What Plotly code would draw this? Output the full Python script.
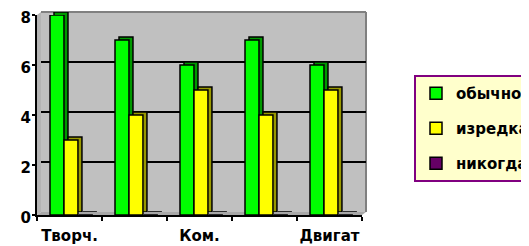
import plotly.graph_objects as go

categories = ["Творч.", "Позн.", "Ком.", "Игр.", "Двигат"]
shown_labels = ["Творч.", "", "Ком.", "", "Двигат"]
series_names = ["обычно", "изредка", "никогда"]
obychno = [8, 7, 6, 7, 6]
izredka = [3, 4, 5, 4, 5]
nikogda = [0, 0, 0, 0, 0]
y_ticks = [0, 2, 4, 6, 8]

front_colors = ["#00FF00", "#FFFF00", "#660066"]
depth_colors = ["#009900", "#999900", "#440044"]
values = [obychno, izredka, nikogda]
bar_offsets = [-0.30, -0.085, 0.145]
BAR_W = 0.215

# page body adds an 8px offset; target screen coordinates are compensated
OFF = 8
W, H = 529, 246
pw, ph = 329, 203
ml, mt = 37 - OFF, 12 - OFF
mr, mb = W - ml - pw, H - mt - ph
dx, dy = 4 / pw, 3 / ph

FONT = "DejaVu Sans"
fig = go.Figure()

for name, vals, col, off in zip(series_names, values, depth_colors, bar_offsets):
    fig.add_trace(go.Bar(
        x=categories, y=vals, name=name, showlegend=False,
        offset=off, width=BAR_W,
        marker=dict(color=col, line=dict(color="black", width=1.5)),
        xaxis="x", yaxis="y", hoverinfo="skip"))

for i, (name, vals, col, off) in enumerate(zip(series_names, values, front_colors, bar_offsets)):
    fig.add_trace(go.Bar(
        x=categories, y=vals, name=name, legendgroup=f"g{i}",
        offset=off, width=BAR_W,
        marker=dict(color=col, line=dict(color="black", width=1.5)),
        xaxis="x2", yaxis="y2"))

shapes = [
    dict(type="path", xref="paper", yref="paper", layer="below",
         path=f"M0,0 L0,{1-dy} L{dx},1 L{dx},{dy} Z",
         fillcolor="#B4B4B4", line=dict(width=0)),
    dict(type="path", xref="paper", yref="paper", layer="below",
         path=f"M0,0 L{1-dx},0 L1,{dy} L{dx},{dy} Z",
         fillcolor="#A8A8A8", line=dict(width=0)),
    dict(type="rect", xref="paper", yref="paper", layer="below",
         x0=dx, x1=1, y0=dy, y1=1, fillcolor="#C0C0C0", line=dict(width=0)),
    dict(type="line", xref="paper", yref="paper", layer="below",
         x0=dx, x1=1, y0=1, y1=1, line=dict(color="#808080", width=2)),
    dict(type="line", xref="paper", yref="paper", layer="below",
         x0=1, x1=1, y0=dy, y1=1, line=dict(color="#808080", width=2)),
]

bold = dict(family=FONT, size=15, weight="bold", color="black")

fig.update_layout(
    template="none",
    width=W, height=H,
    margin=dict(l=ml, r=mr, t=mt, b=mb, autoexpand=False),
    paper_bgcolor="white", plot_bgcolor="rgba(0,0,0,0)",
    barmode="overlay",
    font=dict(family=FONT, size=15, color="black"),
    shapes=shapes,
    xaxis=dict(domain=[dx, 1], anchor="y", type="category",
               categoryorder="array", categoryarray=categories,
               range=[-0.5, 4.5], showticklabels=False, ticks="",
               showgrid=False, zeroline=False, showline=False, automargin=False),
    yaxis=dict(domain=[dy, 1], anchor="x", range=[0, 8],
               tickvals=[2, 4, 6], showticklabels=False, ticks="",
               showgrid=True, gridcolor="black", gridwidth=1.5,
               zeroline=False, showline=False, automargin=False),
    xaxis2=dict(domain=[0, 1 - dx], anchor="y2", type="category",
                categoryorder="array", categoryarray=categories,
                range=[-0.5, 4.5], tickmode="array", tickvals=categories,
                ticktext=shown_labels, tickson="boundaries", tickangle=0,
                ticks="outside", ticklen=4, tickwidth=1.5, tickcolor="black",
                showline=True, linecolor="black", linewidth=2,
                showgrid=False, zeroline=False, automargin=False,
                ticklabelstandoff=6, ticklabeloverflow="allow", tickfont=bold),
    yaxis2=dict(domain=[0, 1 - dy], anchor="x2", range=[0, 8],
                tickvals=y_ticks, ticks="outside", ticklen=3, tickwidth=1.5,
                tickcolor="black", showline=True, linecolor="black",
                linewidth=2, showgrid=False, zeroline=False, automargin=False,
                ticklabelstandoff=-2, ticklabelshift=3,
                ticklabeloverflow="allow", tickfont=bold),
    legend=dict(x=(414 - OFF - ml) / pw, xanchor="left",
                y=(H - mb - (75 - OFF)) / ph, yanchor="top",
                bgcolor="#FFFFCC", bordercolor="#800080", borderwidth=2,
                tracegroupgap=12.5, font=bold),
)

fig.write_html("out.html")
